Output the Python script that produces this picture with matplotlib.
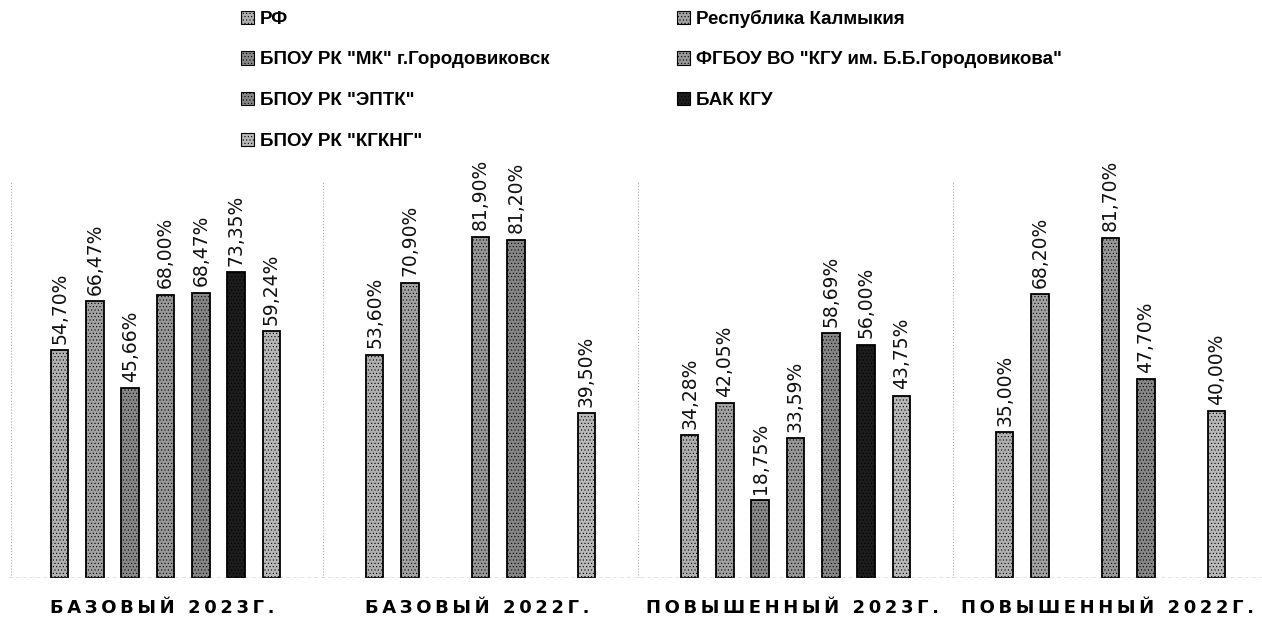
import numpy as np
import matplotlib.pyplot as plt
from matplotlib.patches import Patch

# categories and series
groups = ['БАЗОВЫЙ 2023Г.', 'БАЗОВЫЙ 2022Г.', 'ПОВЫШЕННЫЙ 2023Г.', 'ПОВЫШЕННЫЙ 2022Г.']
series = ['РФ', 'Республика Калмыкия', 'БПОУ РК "МК" г.Городовиковск',
          'ФГБОУ ВО "КГУ им. Б.Б.Городовикова"', 'БПОУ РК "ЭПТК"', 'БАК КГУ',
          'БПОУ РК "КГКНГ"']
rf = [54.70, 53.60, 34.28, 35.00]
rk = [66.47, 70.90, 42.05, 68.20]
mk = [45.66, np.nan, 18.75, np.nan]
kgu = [68.00, 81.90, 33.59, 81.70]
eptk = [68.47, 81.20, 58.69, 47.70]
bak = [73.35, np.nan, 56.00, np.nan]
kgkng = [59.24, 39.50, 43.75, 40.00]
values = [rf, rk, mk, kgu, eptk, bak, kgkng]

colours = ['#b0b0b0', '#a2a2a2', '#888888', '#989898', '#868686', '#1c1c1c', '#b8b8b8']

plt.rcParams['hatch.linewidth'] = 0.4

fig = plt.figure(figsize=(12.62, 6.19), dpi=100)
ax = fig.add_axes([8/1262, 41/619, 1260/1262, 400/619])

step = 0.112
width = 0.056
x = np.arange(len(groups))
for i, (vals, c) in enumerate(zip(values, colours)):
    pos = x + (i - 3) * step
    for p, v in zip(pos, vals):
        if np.isnan(v):
            continue
        ax.bar(p, v, width, color=c, edgecolor='black', linewidth=1.3, hatch='.....')
        ax.text(p, v + 1.5, ('%.2f%%' % v).replace('.', ','), rotation=90,
                ha='center', va='bottom', fontsize=13.5, color='#111111')

ax.set_xlim(-0.5, 3.5)
ax.set_ylim(0, 96)
for s in ax.spines.values():
    s.set_visible(False)
ax.set_xticks([])
ax.set_yticks([])
ax.axhline(0, color='#777777', lw=1, ls=(0, (3, 2)))
for b in [-0.49, 0.5, 1.5, 2.5]:
    ax.axvline(b, color='#aaaaaa', lw=0.8, ls=':', ymax=0.99)

for xi, g in zip(x, groups):
    ax.text(xi - 0.01, -0.075, '\u2009'.join(g), transform=ax.get_xaxis_transform(),
            ha='center', va='center', fontsize=13, fontweight='bold')

handles = [Patch(facecolor=c, edgecolor='black', hatch='.....', linewidth=0.8) for c in colours]
order = [0, 2, 4, 6, 1, 3, 5]
fig.legend([handles[k] for k in order], [series[k] for k in order], ncol=2,
           loc='upper left', bbox_to_anchor=(224/1262, 1 + 7/619), frameon=False,
           handlelength=0.7, handleheight=0.7, handletextpad=0.3,
           labelspacing=1.25, columnspacing=6.8,
           prop={'size': 13.5, 'weight': 'bold', 'family': 'Liberation Sans'})

fig.savefig('out.png', dpi=100)
